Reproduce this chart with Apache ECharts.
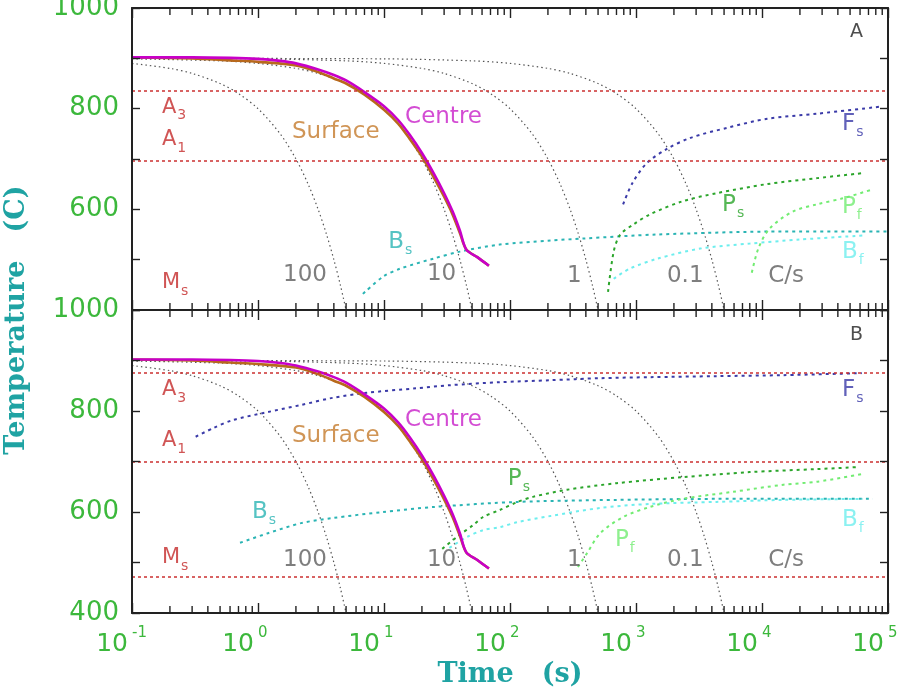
<!DOCTYPE html>
<html>
<head>
<meta charset="utf-8">
<title>Cooling curves</title>
<script src="https://cdn.jsdelivr.net/npm/echarts@6/dist/echarts.min.js"></script>
<style>
  html, body { margin: 0; padding: 0; background: #fff; }
  #chart { width: 900px; height: 699px; }
</style>
</head>
<body>
<div id="chart"></div>
<script>
// time axis: decades (log10 s) and the minor tick multipliers inside each decade
const decades = [-1, 0, 1, 2, 3, 4];
const minorSteps = [2, 3, 4, 5, 6, 7, 8, 9];

// constant cooling rate curves, [time s, temperature C] (same in both panels)
const cool100 = [[0.1, 890], [0.2, 880], [0.3, 870], [0.5, 850], [0.7, 830], [1, 800], [1.5, 750], [2, 700], [2.5, 650], [3, 600], [3.5, 550], [4, 500], [4.5, 450], [5, 400]];
const cool10 = [[0.1, 899], [0.5, 895], [1, 890], [2, 880], [3, 870], [5, 850], [7, 830], [10, 800], [15, 750], [20, 700], [25, 650], [30, 600], [35, 550], [40, 500], [45, 450], [50, 400]];
const cool1 = [[0.1, 900], [1, 899], [5, 895], [10, 890], [20, 880], [30, 870], [50, 850], [70, 830], [100, 800], [150, 750], [200, 700], [250, 650], [300, 600], [350, 550], [400, 500], [450, 450], [500, 400]];
const cool01 = [[0.1, 900], [10, 899], [50, 895], [100, 890], [200, 880], [300, 870], [500, 850], [700, 830], [1000, 800], [1500, 750], [2000, 700], [2500, 650], [3000, 600], [3500, 550], [4000, 500], [4500, 450], [5000, 400]];

// centre and surface of the bar (same in both panels)
const centre = [[0.1, 902], [0.3, 902], [0.6, 901], [1, 899], [1.5, 895], [2, 890], [3, 878], [4, 867], [5, 856], [7, 833], [10, 805], [13, 777], [16, 748], [20, 712], [25, 670], [30, 632], [35, 596], [40, 558], [45, 520], [55, 505], [68, 488]];
const surface = [[0.1, 902], [0.3, 900], [0.6, 896], [1, 893], [2, 886], [3, 873], [4, 860], [5, 850], [7, 828], [10, 798], [13, 770], [16, 740], [20, 705], [25, 662], [30, 625], [35, 590], [40, 553], [45, 520], [55, 505], [68, 488]];

// panel A: transformation start / finish curves
const fsA = [[790, 610], [935, 652], [1220, 692], [1760, 720], [2700, 742], [5300, 762], [11000, 780], [27400, 790], [87000, 804]];
const bsA = [[6.8, 432], [9.8, 466], [13.4, 482], [24.6, 502], [40, 516], [83, 530], [210, 538], [380, 542], [1480, 550], [14800, 556], [100000, 556]];
const psA = [[600, 436], [665, 516], [750, 550], [955, 570], [1290, 590], [2340, 616], [4350, 632], [10900, 650], [27400, 662], [63400, 672]];
const pfA = [[8300, 474], [9350, 522], [11500, 562], [17700, 596], [27400, 610], [44000, 622], [72000, 638]];
const bfA = [[665, 462], [890, 482], [1480, 502], [3240, 522], [8000, 532], [20000, 540], [63400, 548]];
const critA = [835, 697, 400]; // A3, A1, Ms

// panel B
const fsB = [[0.32, 749], [0.44, 766], [0.63, 782], [1.2, 798], [2.2, 812], [3.9, 826], [7.3, 836], [18, 845], [33, 851], [83, 857], [210, 861], [520, 865], [1300, 867], [4350, 869], [14800, 871], [62000, 875]];
const bsB = [[0.72, 539], [1.2, 558], [2.2, 578], [3.9, 588], [9.8, 600], [25, 610], [115, 620], [700, 624], [4350, 626], [76000, 626]];
const psB = [[29, 527], [38, 551], [51, 574], [61, 590], [83, 604], [115, 620], [152, 630], [283, 644], [700, 657], [2340, 669], [8000, 679], [27400, 685], [58000, 689]];
const pfB = [[346, 491], [410, 519], [520, 558], [790, 590], [1290, 610], [2340, 626], [5900, 640], [14800, 654], [27400, 660], [62000, 675]];
const bfB = [[33, 529], [46, 551], [61, 564], [83, 570], [115, 580], [209, 592], [520, 608], [1290, 616], [4350, 620], [14800, 624], [63400, 626]];
const critB = [876, 700, 471];

// text notes: [time, temperature, text, kind]
const notesA = [
  [49900, 952, 'A', 'panel'],
  [0.173, 803, 'A{s|3}', 'crit'], [0.173, 738, 'A{s|1}', 'crit'], [0.173, 454, 'M{s|s}', 'crit'],
  [1.86, 754, 'Surface', 'surface'], [14.7, 784, 'Centre', 'centre'],
  [1.58, 470, '100', 'rate'], [21.9, 472, '10', 'rate'], [283, 468, '1', 'rate'], [1760, 468, '0.1', 'rate'], [11200, 468, 'C/s', 'rate'],
  [10.8, 536, 'B{s|s}', 'bs'], [43100, 770, 'F{s|s}', 'fs'], [4820, 608, 'P{s|s}', 'ps'],
  [43100, 604, 'P{s|f}', 'pf'], [43100, 516, 'B{s|f}', 'bf']
];
const notesB = [
  [49900, 950, 'B', 'panel'],
  [0.173, 842, 'A{s|3}', 'crit'], [0.173, 741, 'A{s|1}', 'crit'], [0.173, 509, 'M{s|s}', 'crit'],
  [1.86, 751, 'Surface', 'surface'], [14.7, 782, 'Centre', 'centre'],
  [1.58, 505, '100', 'rate'], [21.9, 505, '10', 'rate'], [283, 505, '1', 'rate'], [1760, 505, '0.1', 'rate'], [11200, 505, 'C/s', 'rate'],
  [0.895, 600, 'B{s|s}', 'bs'], [43100, 842, 'F{s|s}', 'fs'], [96, 665, 'P{s|s}', 'ps'],
  [681, 545, 'P{s|f}', 'pf'], [43100, 584, 'B{s|f}', 'bf']
];

const colors = {
  panel: '#222', crit: '#c42a2a', surface: '#c47a2c', centre: '#c81fc8', rate: '#5e5e5e',
  fs: '#3a3aa8', bs: '#2ab4b4', ps: '#2ba52b', pf: '#72ec72', bf: '#6eeeee'
};
const GREEN = '#3cb83c';
const TEAL = '#1fa3a3';
const FRAME = '#222';

// minor tick marks (2..9 in each decade) on the top and bottom frame, as one broken line;
// the length is in degrees, about 2 C per pixel
function minorTickSeries(xi, yi) {
  const pts = [];
  decades.forEach(d => {
    minorSteps.forEach(m => {
      const t = m * Math.pow(10, d);
      pts.push([t, 400], [t, 414], ['-', '-']);
      pts.push([t, 1000], [t, 986], ['-', '-']);
    });
  });
  return {
    type: 'line', data: pts, xAxisIndex: xi, yAxisIndex: yi, silent: true, z: 11,
    showSymbol: false, symbol: 'none', connectNulls: false,
    lineStyle: { color: FRAME, width: 1.4, type: 'solid' }
  };
}

// the frame is drawn by the four axis lines of each panel
function yAxisFor(grid, pos, labelFn) {
  return {
    type: 'value', gridIndex: grid, position: pos, min: 400, max: 1000, interval: 100, z: 10,
    splitLine: { show: false },
    axisLine: { show: true, lineStyle: { color: FRAME, width: 2 } },
    axisTick: { show: true, inside: true, length: 8, lineStyle: { color: FRAME, width: 1.4 } },
    axisLabel: labelFn ? {
      show: true, formatter: labelFn, color: GREEN, fontFamily: 'DejaVu Sans', fontSize: 26,
      margin: 13, padding: [10, 0, 0, 0]
    } : { show: false }
  };
}

// log time axis with decade ticks inside the frame
function xAxisFor(grid, pos, ticks, extra) {
  const ax = {
    type: 'log', logBase: 10, gridIndex: grid, position: pos, min: 0.1, max: 100000, z: 10,
    splitLine: { show: false },
    axisLine: { show: ticks, onZero: false, lineStyle: { color: FRAME, width: 2 } },
    axisTick: { show: ticks, inside: true, length: 10, lineStyle: { color: FRAME, width: 1.4 } },
    minorTick: { show: false },
    axisLabel: { show: false }
  };
  if (extra) Object.assign(ax, extra);
  return ax;
}

function curve(name, data, xi, yi, color, width, dash) {
  return {
    name: name, type: 'line', data: data, xAxisIndex: xi, yAxisIndex: yi,
    showSymbol: false, symbol: 'none', smooth: 0.3, silent: true,
    lineStyle: { color: color, width: width, type: dash }
  };
}

function critLines(values, xi, yi) {
  return {
    type: 'line', data: [], xAxisIndex: xi, yAxisIndex: yi, silent: true, z: 12,
    markLine: {
      silent: true, symbol: 'none', label: { show: false },
      lineStyle: { color: '#cc3030', width: 1.5, type: [3, 3] },
      data: values.map(v => ({ yAxis: v }))
    }
  };
}

function noteSeries(notes, xi, yi) {
  return {
    type: 'scatter', xAxisIndex: xi, yAxisIndex: yi, symbolSize: 0, silent: true, z: 10,
    data: notes.map(n => ({
      value: [n[0], n[1]],
      label: { formatter: n[2], color: colors[n[3]], fontSize: n[3] === 'panel' ? 19 : (n[3] === 'crit' ? 21 : 23) }
    })),
    label: {
      show: true, position: 'right', distance: 0, fontFamily: 'DejaVu Sans',
      rich: { s: { fontSize: 14, padding: [17, 0, 0, 1], fontFamily: 'DejaVu Sans' } }
    }
  };
}

function panelSeries(xi, yi, d) {
  return [
    critLines(d.crit, xi, yi),
    curve('100 C/s', cool100, xi, yi, '#555', 1.2, [1.5, 3]),
    curve('10 C/s', cool10, xi, yi, '#555', 1.2, [1.5, 3]),
    curve('1 C/s', cool1, xi, yi, '#555', 1.2, [1.5, 3]),
    curve('0.1 C/s', cool01, xi, yi, '#555', 1.2, [1.5, 3]),
    curve('Fs', d.fs, xi, yi, colors.fs, 2, [3, 4]),
    curve('Bs', d.bs, xi, yi, colors.bs, 2, [3, 4]),
    curve('Ps', d.ps, xi, yi, colors.ps, 2, [3, 4]),
    curve('Pf', d.pf, xi, yi, colors.pf, 2, [3, 4]),
    curve('Bf', d.bf, xi, yi, colors.bf, 2, [3, 4]),
    curve('Surface', surface, xi, yi, '#b8691c', 2.6, 'solid'),
    curve('Centre', centre, xi, yi, '#c800c8', 2.6, 'solid'),
    minorTickSeries(xi, yi),
    noteSeries(d.notes, xi, yi)
  ];
}

const chart = echarts.init(document.getElementById('chart'), null, { renderer: 'canvas' });

const option = {
  animation: false,
  backgroundColor: '#fff',
  grid: [
    { left: 132, right: 12, top: 8, height: 302, show: false, containLabel: false, outerBoundsMode: 'none' },
    { left: 132, right: 12, top: 310, height: 303, show: false, containLabel: false, outerBoundsMode: 'none' }
  ],
  xAxis: [
    xAxisFor(0, 'bottom', true),                        // 0: panel A, bottom ticks
    xAxisFor(0, 'top', true),                           // 1: panel A, top ticks
    xAxisFor(1, 'bottom', true, {                       // 2: panel B, bottom ticks + "10"
      axisLabel: {
        show: true, formatter: () => '10', color: GREEN, fontFamily: 'DejaVu Sans', fontSize: 25,
        align: 'right', verticalAlign: 'middle', margin: 31, padding: [0, 4, 0, 0]
      },
      name: 'Time   (s)', nameLocation: 'middle', nameGap: 62,
      nameTextStyle: { color: TEAL, fontFamily: 'DejaVu Serif', fontWeight: 'bold', fontSize: 27, verticalAlign: 'middle' }
    }),
    xAxisFor(1, 'top', true),                           // 3: panel B, top ticks
    xAxisFor(1, 'bottom', false, {                      // 4: panel B, exponents
      axisLabel: {
        show: true, formatter: v => String(Math.round(Math.log10(v))), color: GREEN,
        fontFamily: 'DejaVu Sans', fontSize: 15, align: 'left', verticalAlign: 'middle', margin: 20
      }
    })
  ],
  yAxis: [
    yAxisFor(0, 'left', v => (v % 200 === 0 && v !== 400) ? String(v) : ''),
    yAxisFor(0, 'right', null),
    yAxisFor(1, 'left', v => (v % 200 === 0) ? String(v) : ''),
    yAxisFor(1, 'right', null)
  ],
  graphic: [
    {
      type: 'text', x: 17, y: 320, rotation: Math.PI / 2,
      style: {
        text: 'Temperature   (C)', fill: TEAL, font: 'bold 27px "DejaVu Serif"',
        textAlign: 'center', textVerticalAlign: 'middle'
      }
    }
  ],
  series: [].concat(
    panelSeries(0, 0, { crit: critA, fs: fsA, bs: bsA, ps: psA, pf: pfA, bf: bfA, notes: notesA }),
    panelSeries(2, 2, { crit: critB, fs: fsB, bs: bsB, ps: psB, pf: pfB, bf: bfB, notes: notesB })
  )
};

chart.setOption(option);
window.addEventListener('resize', () => chart.resize());
</script>
</body>
</html>
